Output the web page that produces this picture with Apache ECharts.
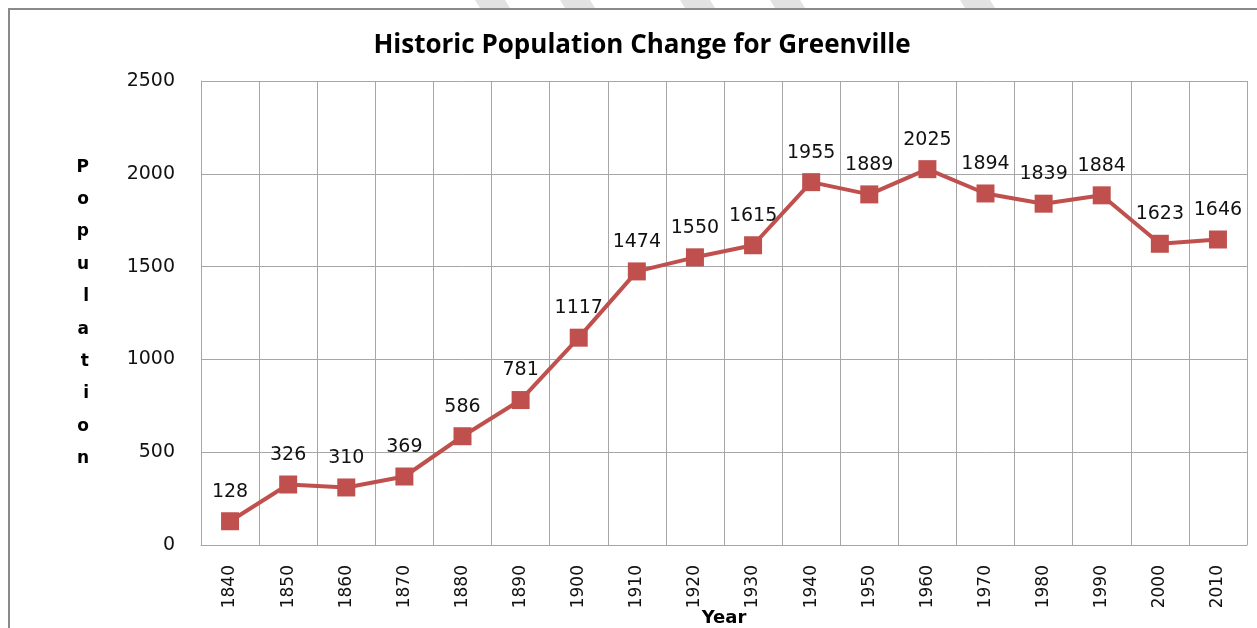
<!DOCTYPE html>
<html>
<head>
<meta charset="utf-8">
<script src="https://cdn.jsdelivr.net/npm/echarts@6/dist/echarts.min.js"></script>
<style>
  html, body { margin: 0; padding: 0; background: #fff; }
  #chart { width: 1257px; height: 628px; }
</style>
</head>
<body>
<div id="chart"></div>
<script>
// population by census year
const years = ['1840', '1850', '1860', '1870', '1880', '1890', '1900', '1910', '1920',
               '1930', '1940', '1950', '1960', '1970', '1980', '1990', '2000', '2010'];
const population = [128, 326, 310, 369, 586, 781, 1117, 1474, 1550,
                    1615, 1955, 1889, 2025, 1894, 1839, 1884, 1623, 1646];

const gridColor = '#a6a6a6';
const lineColor = '#c0504d';

const chart = echarts.init(document.getElementById('chart'));

// faint diagonal stripes along the top edge of the page
const stripes = [[475, 505], [560, 590], [680, 710], [770, 800], [960, 990]].map(([a, b]) => ({
  type: 'polygon',
  shape: { points: [[a, 0], [b, 0], [b + 5, 8], [a + 5, 8]] },
  style: { fill: '#e2e2e2' },
  silent: true
}));

chart.setOption({
  backgroundColor: '#fff',
  animation: false,
  title: {
    text: 'Historic Population Change for Greenville',
    left: 637, top: 28, textAlign: 'center',
    textStyle: { fontFamily: 'Open Sans', fontWeight: 'bold', fontSize: 26, color: '#000' }
  },
  graphic: [
    ...stripes,
    {
      type: 'polyline',
      shape: { points: [[9, 628], [9, 9], [1257, 9]] },
      style: { stroke: '#8a8a8a', lineWidth: 2, fill: null },
      silent: true
    }
  ],
  grid: { left: 201, right: 10, top: 81, bottom: 83, outerBoundsMode: 'none' },
  xAxis: {
    type: 'category',
    data: years,
    boundaryGap: true,
    name: 'Year',
    nameLocation: 'middle',
    nameGap: 64,
    nameMoveOverlap: false,
    nameTextStyle: { fontFamily: 'DejaVu Sans', fontWeight: 'bold', fontSize: 18, color: '#000' },
    axisLine: { show: true, lineStyle: { color: gridColor, width: 1 } },
    axisTick: { show: false },
    splitLine: { show: true, lineStyle: { color: gridColor, width: 1 } },
    axisLabel: {
      rotate: 90, margin: 20, interval: 0,
      fontFamily: 'DejaVu Sans', fontSize: 17, color: '#111'
    }
  },
  yAxis: {
    type: 'value',
    min: 0, max: 2500, interval: 500,
    name: 'P\no\np\nu\nl\na\nt\ni\no\nn',
    nameLocation: 'middle',
    nameRotate: 0,
    nameGap: 112,
    nameMoveOverlap: false,
    nameTextStyle: {
      fontFamily: 'DejaVu Sans', fontWeight: 'bold', fontSize: 17, color: '#000',
      lineHeight: 32.4, padding: [12, 0, 0, 0]
    },
    axisLine: { show: true, lineStyle: { color: gridColor, width: 1 } },
    axisTick: { show: false },
    splitLine: { show: true, lineStyle: { color: gridColor, width: 1 } },
    axisLabel: {
      margin: 26, fontFamily: 'DejaVu Sans', fontSize: 19, color: '#111',
      formatter: v => String(v)
    }
  },
  series: [{
    type: 'line',
    data: population,
    symbol: 'rect',
    symbolSize: 18,
    lineStyle: { color: lineColor, width: 4 },
    itemStyle: { color: lineColor },
    label: {
      show: true, position: 'top', distance: 11,
      fontFamily: 'DejaVu Sans', fontSize: 19, color: '#111'
    }
  }]
});
</script>
</body>
</html>
